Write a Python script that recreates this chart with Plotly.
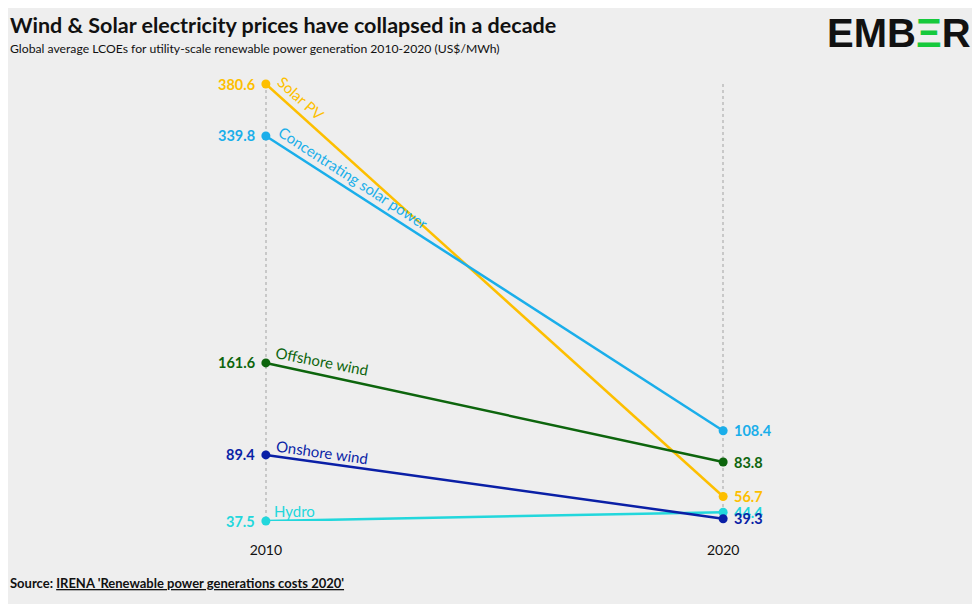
import plotly.graph_objects as go

years = [2010, 2020]
series_names = ["Solar PV", "Concentrating solar power", "Offshore wind", "Hydro", "Onshore wind"]
values_2010 = [380.6, 339.8, 161.6, 37.5, 89.4]
values_2020 = [56.7, 108.4, 83.8, 44.4, 39.3]
colors = ["#FDBF00", "#1AAEEA", "#0D650D", "#22D7DC", "#0A1FA6"]
value_labels_2010 = ["380.6", "339.8", "161.6", "37.5", "89.4"]
value_labels_2020 = ["56.7", "108.4", "83.8", "44.4", "39.3"]

# label placement styling (pixel offsets / angles for series-name labels)
name_style = {
    "Solar PV": dict(xshift=35, yshift=-14, textangle=42),
    "Concentrating solar power": dict(xshift=88, yshift=-42, textangle=33),
    "Offshore wind": dict(xshift=56, yshift=2, textangle=11),
    "Onshore wind": dict(xshift=56, yshift=3, textangle=8),
    "Hydro": dict(xshift=29, yshift=10, textangle=0),
}

BG = "#eeeeee"
FONT = "Lato"
W, H = 980, 604
ML, MR, MT, MB = 235, 242, 76, 91
OFF = 8  # page body offset

fig = go.Figure()
for name, v0, v1, c in zip(series_names, values_2010, values_2020, colors):
    fig.add_trace(go.Scatter(
        x=years, y=[v0, v1], mode="lines+markers",
        line=dict(color=c, width=2.5),
        marker=dict(color=c, size=9),
        cliponaxis=False, showlegend=False, hoverinfo="skip",
    ))

annotations = []
for name, v0, v1, c, l0, l1 in zip(series_names, values_2010, values_2020, colors,
                                    value_labels_2010, value_labels_2020):
    annotations.append(dict(x=years[0], y=v0, xref="x", yref="y", text=f"<b>{l0}</b>",
                            showarrow=False, xanchor="right", yanchor="middle", xshift=-9,
                            font=dict(family=FONT, size=14.5, color=c)))
    annotations.append(dict(x=years[1], y=v1, xref="x", yref="y", text=f"<b>{l1}</b>",
                            showarrow=False, xanchor="left", yanchor="middle", xshift=9,
                            font=dict(family=FONT, size=14.5, color=c)))
    st = name_style[name]
    annotations.append(dict(x=years[0], y=v0, xref="x", yref="y", text=name,
                            showarrow=False, xanchor="center", yanchor="middle",
                            xshift=st["xshift"], yshift=st["yshift"], textangle=st["textangle"],
                            font=dict(family=FONT, size=15, color=c)))

def px(xp):
    return (xp - OFF - ML) / (W - ML - MR)
def py(yp):
    return (H - MB - (yp - OFF)) / (H - MT - MB)

annotations += [
    dict(x=px(8), y=py(25), xref="paper", yref="paper",
         text="<b>Wind &amp; Solar electricity prices have collapsed in a decade</b>",
         showarrow=False, xanchor="left", yanchor="middle",
         font=dict(family=FONT, size=21.5, color="#111111")),
    dict(x=px(8), y=py(48), xref="paper", yref="paper",
         text="Global average LCOEs for utility-scale renewable power generation 2010-2020 (US$/MWh)",
         showarrow=False, xanchor="left", yanchor="middle",
         font=dict(family=FONT, size=12.2, color="#111111")),
    dict(x=px(973), y=py(33), xref="paper", yref="paper",
         text="<b>EMB<span style='color:#16C93C'>Ξ</span>R</b>",
         showarrow=False, xanchor="right", yanchor="middle",
         font=dict(family="Liberation Sans", size=40, color="#111111")),
    dict(x=px(8), y=py(583), xref="paper", yref="paper",
         text="<b>Source: <span style='text-decoration:underline'>IRENA 'Renewable power generations costs 2020'</span></b>",
         showarrow=False, xanchor="left", yanchor="middle",
         font=dict(family=FONT, size=13, color="#111111")),
]

fig.update_layout(
    width=W, height=H,
    paper_bgcolor=BG, plot_bgcolor=BG,
    margin=dict(l=ML, r=MR, t=MT, b=MB),
    xaxis=dict(range=[2009.5, 2020.5], tickvals=years, ticktext=[str(y) for y in years],
               showgrid=True, gridcolor="#c8c8c8", griddash="dot", gridwidth=1.5,
               zeroline=False, showline=False, ticks="outside", ticklen=16,
               tickcolor="rgba(0,0,0,0)",
               tickfont=dict(family=FONT, size=14, color="#111111"), fixedrange=True),
    yaxis=dict(range=[37.5, 380.6], visible=False, showgrid=False, zeroline=False, fixedrange=True),
    font=dict(family=FONT),
    annotations=annotations,
)

fig.write_html("out.html")
